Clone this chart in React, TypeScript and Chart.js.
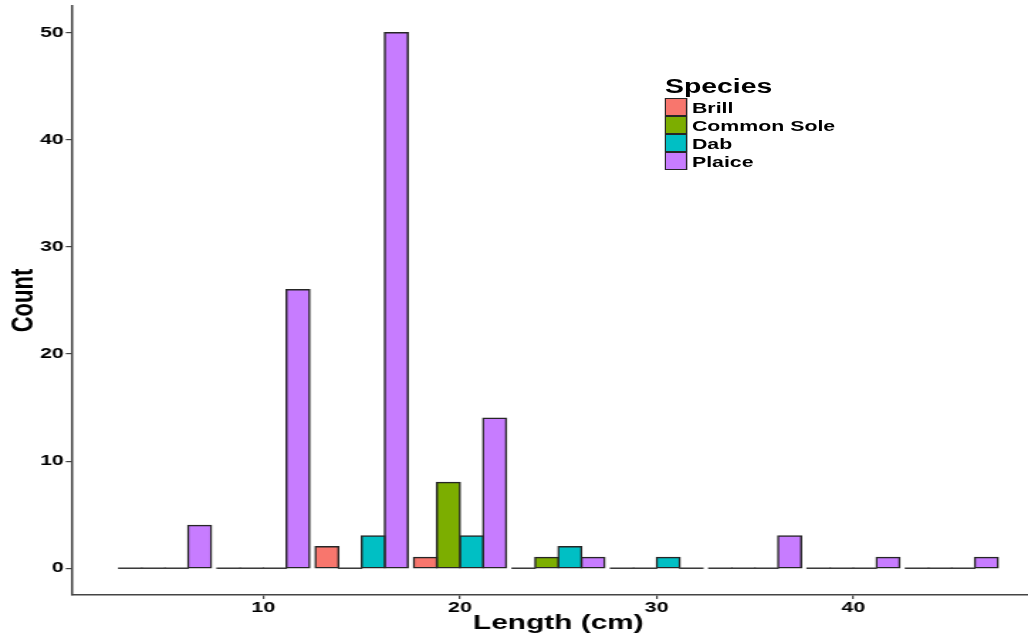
import React, { useEffect, useRef } from "react";
import { Chart, registerables } from "chart.js";

Chart.register(...registerables);

// ---- data ----
const lengthBins = [5, 10, 15, 20, 25, 30, 35, 40, 45];
const species = ["Brill", "Common Sole", "Dab", "Plaice"];
const brillCounts = [0, 0, 2, 1, 0, 0, 0, 0, 0];
const commonSoleCounts = [0, 0, 0, 8, 1, 0, 0, 0, 0];
const dabCounts = [0, 0, 3, 3, 2, 1, 0, 0, 0];
const plaiceCounts = [4, 26, 50, 14, 1, 0, 3, 1, 1];
const xTickValues = [10, 20, 30, 40];
const yTickValues = [0, 10, 20, 30, 40, 50];
const speciesColors = ["#F8766D", "#7CAE00", "#00BFC4", "#C77CFF"];

const SX = 1.42; // horizontal stretch of the reference rendering
const W = 736; // unscaled canvas width (panel runs slightly past the crop, like the reference)
const H = 642;
const FONT = "'Liberation Sans', Arial, Helvetica, sans-serif";
const EDGE = "#262626";

const zeroLinePlugin = {
  id: "zeroLines",
  afterDatasetsDraw(chart: any) {
    const ctx = chart.ctx;
    ctx.save();
    ctx.strokeStyle = "#3a3a3a";
    ctx.lineWidth = 1.5;
    chart.data.datasets.forEach((ds: any, i: number) => {
      const meta = chart.getDatasetMeta(i);
      meta.data.forEach((bar: any, j: number) => {
        if (ds.data[j] === 0) {
          const p = bar.getProps(["x", "y", "width"], true);
          ctx.beginPath();
          ctx.moveTo(p.x - p.width / 2 - 0.5, p.y);
          ctx.lineTo(p.x + p.width / 2 + 0.5, p.y);
          ctx.stroke();
        }
      });
    });
    ctx.restore();
  },
};

export default function App() {
  const ref = useRef<HTMLCanvasElement | null>(null);

  useEffect(() => {
    if (!ref.current) return;
    const seriesValues = [brillCounts, commonSoleCounts, dabCounts, plaiceCounts];
    const chart = new Chart(ref.current, {
      type: "bar",
      data: {
        labels: lengthBins,
        datasets: species.map((name, i) => ({
          label: name,
          data: seriesValues[i],
          backgroundColor: speciesColors[i],
          borderColor: EDGE,
          borderWidth: 1.5,
          borderSkipped: false,
          inflateAmount: 0.75,
          categoryPercentage: 0.94,
          barPercentage: 1.0,
        })),
      },
      options: {
        animation: false,
        responsive: false,
        devicePixelRatio: 1,
        layout: { padding: { top: 6, right: 0, left: 0, bottom: 0 } },
        plugins: {
          legend: { display: false },
          tooltip: { enabled: false },
        },
        scales: {
          x: {
            type: "linear",
            min: 0.25,
            max: 49.75,
            offset: false,
            afterBuildTicks: (scale: any) => {
              scale.ticks = xTickValues.map((v) => ({ value: v }));
            },
            afterFit: (scale: any) => {
              scale.height = 47;
              scale.paddingLeft = 0;
              scale.paddingRight = 0;
            },
            grid: {
              display: true,
              drawOnChartArea: false,
              drawTicks: true,
              tickLength: 4,
              offset: false,
              color: "#444",
              lineWidth: 1.2,
            },
            border: { display: true, color: "#444", width: 1.5 },
            ticks: {
              padding: 0,
              maxRotation: 0,
              autoSkip: false,
              color: "#000",
              font: { family: FONT, size: 15, weight: "bold" },
              callback: (v: any) => String(v),
            },
            title: {
              display: true,
              text: "Length (cm)",
              color: "#000",
              font: { family: FONT, size: 21, weight: "bold", lineHeight: 1 },
              padding: { top: 0, bottom: 8 },
            },
          },
          y: {
            type: "linear",
            min: -2.5,
            max: 52.5,
            afterBuildTicks: (scale: any) => {
              scale.ticks = yTickValues.map((v) => ({ value: v }));
            },
            afterFit: (scale: any) => {
              scale.width = 71.5 / SX;
              scale.paddingTop = 0;
              scale.paddingBottom = 0;
            },
            grid: {
              display: true,
              drawOnChartArea: false,
              drawTicks: true,
              tickLength: 4,
              color: "#444",
              lineWidth: 1.2,
            },
            border: { display: true, color: "#444", width: 1.5 },
            ticks: {
              padding: 1.5,
              color: "#000",
              font: { family: FONT, size: 15, weight: "bold" },
              callback: (v: any) => String(v),
            },
            title: {
              display: true,
              text: "Count",
              color: "#000",
              font: { family: FONT, size: 22, weight: "bold", lineHeight: 1 },
              padding: { top: 5.5, bottom: 0 },
            },
          },
        },
      },
      plugins: [zeroLinePlugin],
    } as any);
    return () => chart.destroy();
  }, []);

  return (
    <div
      style={{
        position: "absolute",
        left: 0,
        top: 0,
        width: 1028,
        height: H,
        overflow: "hidden",
        background: "#fff",
      }}
    >
      <div
        style={{
          position: "absolute",
          left: 0,
          top: 0,
          width: W,
          height: H,
          transform: `scaleX(${SX})`,
          transformOrigin: "0 0",
        }}
      >
        <canvas
          ref={ref}
          width={W}
          height={H}
          style={{ display: "block", width: W + "px", height: H + "px" }}
        />
        <div
          style={{
            position: "absolute",
            left: 468.3,
            top: 76,
            fontFamily: FONT,
            fontWeight: "bold",
            color: "#000",
          }}
        >
          <div style={{ fontSize: 20, lineHeight: "20px", height: 22 }}>Species</div>
          {species.map((name, i) => (
            <div
              key={name}
              style={{ display: "flex", alignItems: "center", height: 18 }}
            >
              <div
                style={{
                  width: 15.5,
                  height: 17.5,
                  boxSizing: "border-box",
                  border: "1.3px solid " + EDGE,
                  background: speciesColors[i],
                }}
              />
              <div style={{ fontSize: 15, lineHeight: "17px", marginLeft: 3.5, whiteSpace: "nowrap" }}>
                {name}
              </div>
            </div>
          ))}
        </div>
      </div>
    </div>
  );
}
